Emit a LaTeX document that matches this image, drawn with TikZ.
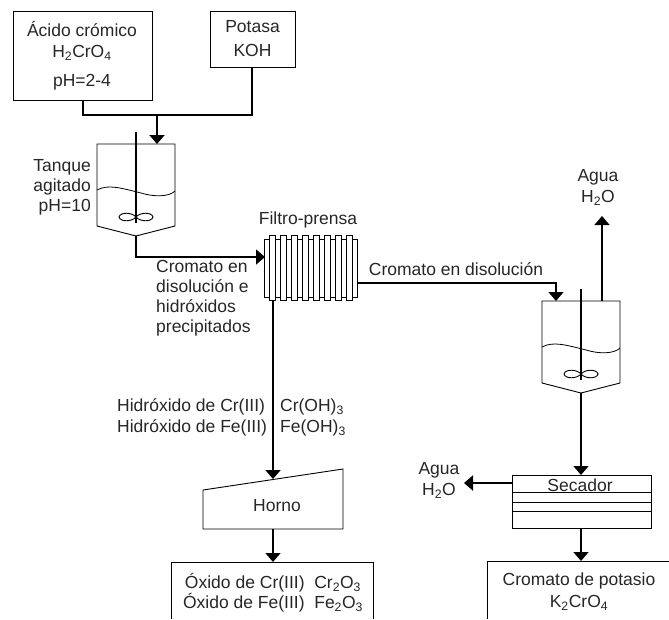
\documentclass[tikz,border=0pt]{standalone}
\usepackage{fontspec}
\setmainfont{Liberation Sans}
\usetikzlibrary{arrows.meta}
\tikzset{
 x=1pt,y=-1pt,
 lbl/.style={font=\fontsize{17.5}{20.2}\selectfont,inner sep=0pt,align=center,text=black!85},
 boxs/.style={draw,line width=1pt},
 thin line/.style={draw,line width=0.9pt},
 flow/.style={draw,line width=2pt,-{Triangle[length=9pt,width=15pt]}},
 flowthin/.style={draw,line width=1.5pt,-{Triangle[length=9pt,width=15pt]}},
 pipe/.style={draw,line width=1.8pt},
}
\newcommand{\tank}[2]{%
 \draw[thin line] (#1-39,#2+50) -- (#1-39,#2) -- (#1+39,#2) -- (#1+39,#2+82) -- (#1,#2+92) -- (#1-39,#2+82) -- cycle;
 \draw[line width=0.8pt] (#1-39,#2+46) .. controls (#1-28,#2+40) and (#1-15,#2+44) .. (#1+5,#2+49) .. controls (#1+18,#2+53) and (#1+33,#2+53) .. (#1+39,#2+47);
 \draw[line width=1.1pt] (#1,#2-12) -- (#1,#2+79);
 \draw[line width=0.9pt] (#1,#2+73) .. controls (#1-4,#2+68) and (#1-16,#2+68) .. (#1-17,#2+73) .. controls (#1-16,#2+78) and (#1-4,#2+78) .. (#1,#2+73) .. controls (#1+4,#2+68) and (#1+16,#2+68) .. (#1+17,#2+73) .. controls (#1+16,#2+78) and (#1+4,#2+78) .. (#1,#2+73);
}
\begin{document}
\begin{tikzpicture}
\useasboundingbox (0,0) rectangle (669,619);
% feed boxes
\node[boxs,minimum width=139pt,minimum height=89pt,inner sep=0pt,anchor=north west] (acid) at (13,11) {};
\node[lbl] (acidt) at (82,29) {Ácido crómico};
\node[lbl] (acidf) at (82,53) {H\textsubscript{2}CrO\textsubscript{4}};
\node[lbl] (acidp) at (82,82) {pH=2-4};
\node[boxs,minimum width=85pt,minimum height=56pt,inner sep=0pt,anchor=north west] (koh) at (210,11) {};
\node[lbl] (koht) at (252.5,27) {Potasa};
\node[lbl] (kohf) at (252.5,50) {KOH};
% tank 1
\tank{136}{144}
\coordinate (t1top) at (157,144);
\coordinate (t1bot) at (136,236);
\coordinate (join) at (157,115);
\coordinate (acidout) at (83,100);
\coordinate (kohout) at (252,67);
\node[lbl,align=right,anchor=east] (tq) at (91,187.5) {Tanque\\agitado\\pH=10};
% filter
\draw[line width=0.8pt] (264,239) rectangle (357,297);
\foreach \x in {272,283,294,305,316,327,338,349}{\draw[line width=1pt,fill=white] (\x-3,235) rectangle (\x+3,300);}
\coordinate (filtin) at (265,257);
\coordinate (filtout) at (357,283);
\coordinate (filtbot) at (273,300);
\node[lbl] (ft) at (308,220) {Filtro-prensa};
% connectors
\draw[pipe] (acidout) |- (join);
\draw[pipe] (kohout) |- (join);
\draw[flow] (join) -- (t1top);
\draw[flowthin] (t1bot) |- (filtin);
\node[lbl,align=left,anchor=west] (cr1) at (156,298) {Cromato en\\disolución e\\hidróxidos\\precipitados};
% right tank
\tank{581}{301}
\coordinate (t2top) at (556,301);
\coordinate (t2topb) at (602,301);
\coordinate (wat1) at (602,216);
\coordinate (t2bot) at (581,393);
\draw[flowthin] (filtout) -| (t2top);
\draw[flowthin] (t2topb) -- (wat1);
\node[lbl] (cr2) at (456,269) {Cromato en disolución};
\node[lbl] (ag1) at (598,177) {Agua};
\node[lbl] (ag1f) at (598,198) {H\textsubscript{2}O};
% dryer
\node[boxs,minimum width=139pt,minimum height=53pt,inner sep=0pt,anchor=north west] (sec) at (512,475) {};
\draw[line width=1pt] (512,492) -- (651,492) (512,502) -- (651,502) (512,511) -- (651,511);
\node[lbl] (sect) at (580,485) {Secador};
\draw[flowthin] (t2bot) -- (t2bot |- sec.north);
\coordinate (ag2a) at (464,483);
\draw[flow] (sec.west |- ag2a) -- (ag2a);
\node[lbl] (ag2) at (439,470) {Agua};
\node[lbl] (ag2f) at (439,491) {H\textsubscript{2}O};
% furnace
\draw[thin line] (203,490) -- (203,529) -- (343,529) -- (343,469) -- cycle;
\coordinate (hn) at (273,479);
\node[lbl] (hor) at (277,506) {Horno};
\draw[flow] (filtbot) -- (hn);
\node[lbl,anchor=west] (hid1) at (117,407) {Hidróxido de Cr(III)};
\node[lbl,anchor=west] (hid2) at (117,428) {Hidróxido de Fe(III)};
\node[lbl,anchor=west] (hid3) at (280,407) {Cr(OH)\textsubscript{3}};
\node[lbl,anchor=west] (hid4) at (280,428) {Fe(OH)\textsubscript{3}};
% outputs
\draw[line width=1pt] (171,619) -- (171,562.5) -- (373,562.5) -- (373,619);
\coordinate (ox) at (273,562);
\coordinate (hnout) at (273,529);
\draw[flowthin] (hnout) -- (ox);
\node[lbl] (ox1) at (273,583) {Óxido de Cr(III)\ \ Cr\textsubscript{2}O\textsubscript{3}};
\node[lbl] (ox2) at (273,603) {Óxido de Fe(III)\ \ Fe\textsubscript{2}O\textsubscript{3}};
\draw[line width=1pt] (487,619) -- (487,561.5) -- (669,561.5);
\coordinate (kc) at (581,561);
\draw[flowthin] (sec.south -| kc) -- (kc);
\node[lbl] (kc1) at (579,581) {Cromato de potasio};
\node[lbl] (kc2) at (579,603) {K\textsubscript{2}CrO\textsubscript{4}};
\end{tikzpicture}
\end{document}
